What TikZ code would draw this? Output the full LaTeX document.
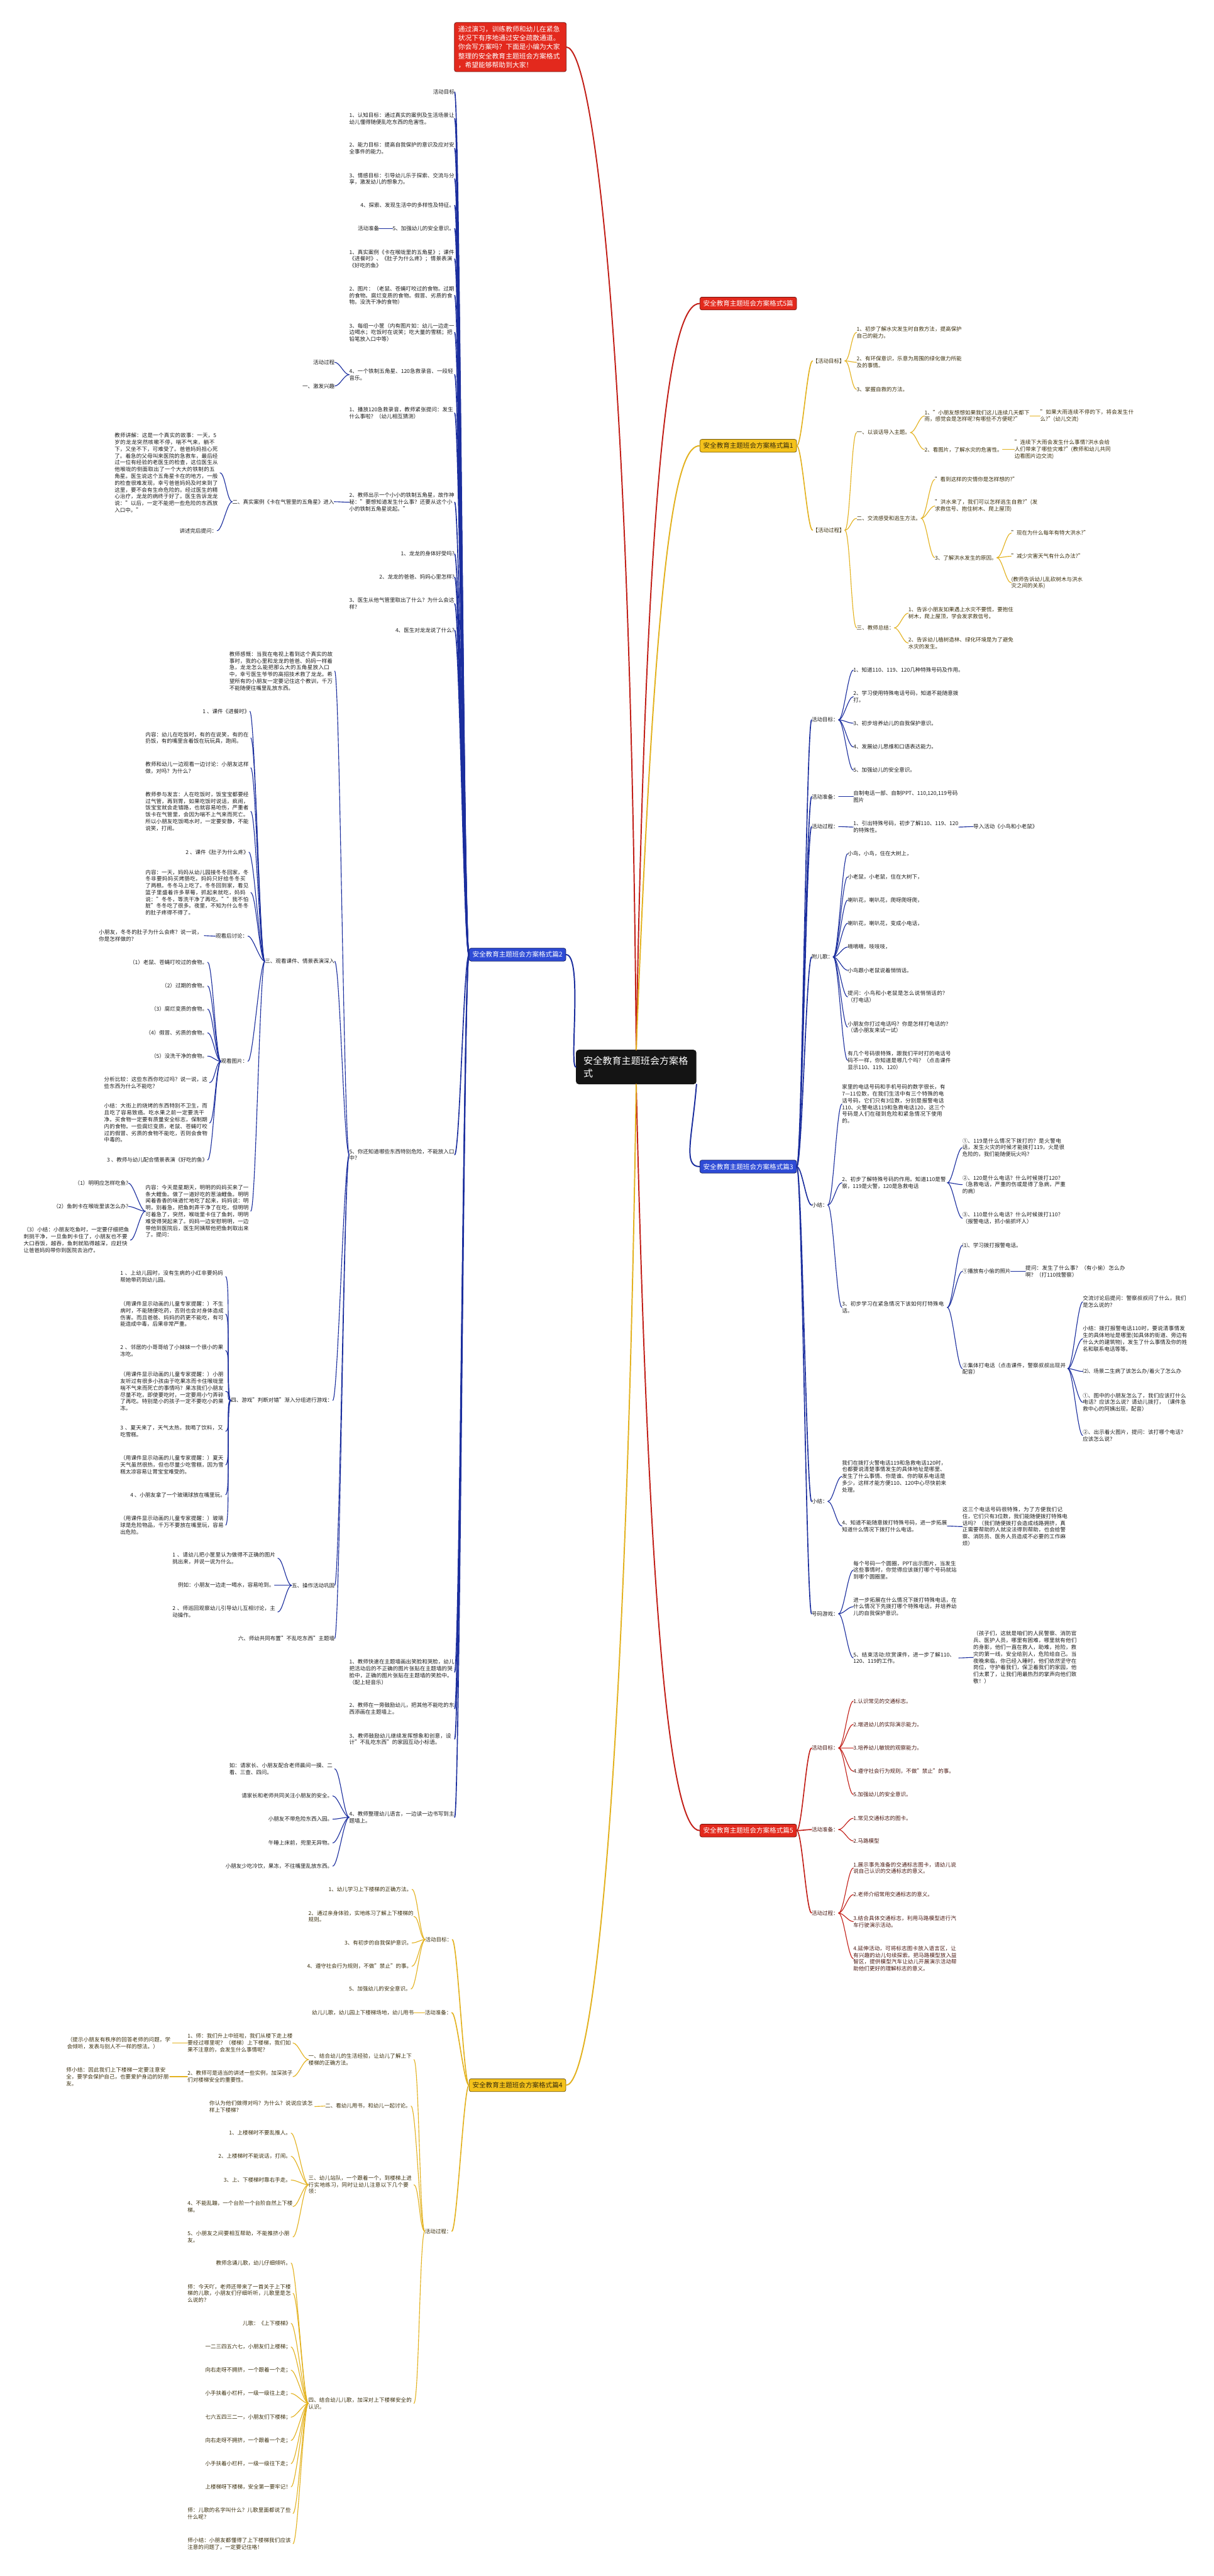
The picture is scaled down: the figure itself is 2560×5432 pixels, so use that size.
\documentclass[tikz,border=0pt]{standalone}
\usepackage{fontspec}
\setmainfont{Noto Sans CJK SC}
\XeTeXlinebreaklocale "zh"
\XeTeXlinebreakskip=0pt plus 1pt
\definecolor{bluefill}{HTML}{2E4BD6}
\definecolor{blueline}{HTML}{1B2E9E}
\definecolor{yelfill}{HTML}{F4C21B}
\definecolor{yelline}{HTML}{E3B21F}
\definecolor{redfill}{HTML}{E3291D}
\definecolor{redline}{HTML}{C21F18}
\definecolor{txt}{HTML}{1C1C1C}
\definecolor{ytxt}{HTML}{3A2E0C}
\definecolor{rtxt}{HTML}{4A1812}
\newcommand\fsleaf{\fontsize{11.3pt}{14.3pt}\selectfont}
\newcommand\fsbranch{\fontsize{14pt}{17pt}\selectfont}
\newcommand\fanL[3]{\foreach \kid in {#3}{\draw[#1] (#2.west) .. controls +(-11,0) and +(11,0) .. (\kid.east);}}
\newcommand\fanR[3]{\foreach \kid in {#3}{\draw[#1] (#2.east) .. controls +(11,0) and +(-11,0) .. (\kid.west);}}
\tikzset{
 leaf/.style={inner sep=0pt, font=\fsleaf, text=txt},
 ls/.style={leaf, anchor=east},
 lm/.style={leaf, anchor=east, text width=222pt, align=left},
 rs/.style={leaf, anchor=west},
 rm/.style={leaf, anchor=west, text width=222pt, align=left},
 brn/.style={font=\fsbranch, rounded corners=4pt, inner xsep=7pt, inner ysep=7pt, draw, line width=1pt},
 bl/.style={draw=blueline, line width=1.5pt},
 blb/.style={draw=blueline, line width=2.2pt},
 yl/.style={draw=yelline, line width=1.5pt},
 ylb/.style={draw=yelline, line width=2.2pt},
 rl/.style={draw=redline, line width=1.5pt},
 rlb/.style={draw=redline, line width=2.2pt},
}
\begin{document}
\begin{tikzpicture}[x=1pt,y=-1pt,line cap=round]
\useasboundingbox (0,0) rectangle (2560,5432);
\fill[white] (0,0) rectangle (2560,5432);

% ---------- central and main nodes ----------
\node[fill=black!92, text=white, rounded corners=6pt, font=\fontsize{20pt}{26pt}\selectfont, inner xsep=16pt, inner ysep=14pt, text width=222pt, align=left] (ctr) at (1342,2250) {安全教育主题班会方案格式};
\node[brn, fill=redfill, draw=redline!60!black, text=white, font=\fontsize{14.3pt}{19pt}\selectfont, anchor=north west, text width=220pt, align=left, inner xsep=8pt, inner ysep=7pt] (intro) at (958,47) {通过演习，训练教师和幼儿在紧急\\状况下有序地通过安全疏散通道。\\你会写方案吗？下面是小编为大家\\整理的安全教育主题班会方案格式\\，希望能够帮助到大家！};
\node[brn, fill=redfill, draw=redline!60!black, text=white, anchor=west] (nB5t) at (1476,640) {安全教育主题班会方案格式5篇};
\node[brn, fill=yelfill, draw=yelline!50!black, text=ytxt, anchor=west] (nB1) at (1476,940) {安全教育主题班会方案格式篇1};
\node[brn, fill=bluefill, draw=blueline!60!black, text=white, anchor=east] (nB2) at (1194,2013) {安全教育主题班会方案格式篇2};
\node[brn, fill=bluefill, draw=blueline!60!black, text=white, anchor=west] (nB3) at (1476,2460) {安全教育主题班会方案格式篇3};
\node[brn, fill=yelfill, draw=yelline!50!black, text=ytxt, anchor=east] (nB4) at (1194,4397) {安全教育主题班会方案格式篇4};
\node[brn, fill=redfill, draw=redline!60!black, text=white, anchor=west] (nB5) at (1476,3860) {安全教育主题班会方案格式篇5};

\draw[redline, line width=2.6pt] (ctr.north) .. controls (1330,700) and (1250,102) .. (intro.east);
\draw[redline, line width=2.6pt] (ctr.north) .. controls (1365,900) and (1420,640) .. (nB5t.west);
\draw[yelline, line width=2.6pt] (ctr.north) .. controls (1385,1100) and (1430,940) .. (nB1.west);
\draw[blueline, line width=2.6pt] (ctr.south east) .. controls (1460,2400) and (1440,2460) .. (nB3.west);
\draw[redline, line width=2.6pt] (ctr.south) .. controls (1370,3500) and (1420,3860) .. (nB5.west);
\draw[blueline, line width=2.6pt] (ctr.west) .. controls (1200,2250) and (1230,2013) .. (nB2.east);
\draw[yelline, line width=2.6pt] (ctr.south) .. controls (1320,3800) and (1250,4397) .. (nB4.east);

% ---------- 篇2 (blue, left) ----------
\node[ls] (a1) at (959,194) {活动目标};
\node[lm] (a2) at (959,250) {1、认知目标：通过真实的案例及生活场景让幼儿懂得随便乱吃东西的危害性。};
\node[lm] (a3) at (959,313) {2、能力目标：提高自我保护的意识及应对安全事件的能力。};
\node[lm] (a4) at (959,377) {3、情感目标：引导幼儿乐于探索、交流与分享，激发幼儿的想象力。};
\node[ls] (a5) at (959,433) {4、探索、发现生活中的多样性及特征。};
\node[ls] (a6) at (959,482) {5、加强幼儿的安全意识。};
\node[ls] (a6a) at (800,482) {活动准备};
\node[lm] (a7) at (959,546) {1、真实案例《卡在喉咙里的五角星》；课件《进餐时》、《肚子为什么疼》；情景表演《好吃的鱼》};
\node[lm] (a8) at (959,623) {2、图片：（老鼠、苍蝇叮咬过的食物。过期的食物。腐烂变质的食物。假冒、劣质的食物。没洗干净的食物）};
\node[lm] (a9) at (959,701) {3、每组一小筐（内有图片如：幼儿一边走一边喝水；吃饭时在说笑；吃大量的雪糕；把铅笔放入口中等）};
\node[lm] (a10) at (959,790) {4、一个铁制五角星、120急救录音、一段轻音乐。};
\node[ls] (a10a) at (706,764) {活动过程};
\node[ls] (a10b) at (706,814) {一、激发兴趣};
\node[lm] (a11) at (959,871) {1、播放120急救录音，教师紧张提问：发生什么事啦？（幼儿相互猜测）};
\node[lm] (a12) at (959,1059) {2、教师出示一个小小的铁制五角星，故作神秘："要想知道发生什么事？还要从这个小小的铁制五角星说起。"};
\node[ls] (a12a) at (705,1058) {二、真实案例《卡在气管里的五角星》进入};
\node[lm] (a12a1) at (464,997) {教师讲解：这是一个真实的故事：一天，5岁的龙龙突然咳嗽不停，喘不气来，躺不下，又坐不下，可难受了。爸爸妈妈担心死了。着急的父母叫来医院的急救车，最后经过一位有经验的老医生的检查，这位医生从他喉咙的侧面取出了一个大大的铁制的五角星。医生说这个五角星卡在的地方，一般的检查很难发现，幸亏爸爸妈妈及时来到了这里，要不会有生命危险的。经过医生的精心治疗，龙龙的病终于好了。医生告诉龙龙说："以后，一定不能把一些危险的东西放入口中。"};
\node[ls] (a12a2) at (458,1119) {讲述完后提问：};
\node[ls] (a13) at (959,1168) {1、龙龙的身体好受吗?};
\node[ls] (a14) at (959,1217) {2、龙龙的爸爸、妈妈心里怎样?};
\node[lm] (a15) at (959,1273) {3、医生从他气管里取出了什么？为什么会这样?};
\node[ls] (a16) at (959,1329) {4、医生对龙龙说了什么?};
\node[lm] (a17) at (959,2435) {5、你还知道哪些东西特别危险，不能放入口中?};
\node[lm] (b1) at (706,1415) {教师感慨：当我在电视上看到这个真实的故事时，我的心里和龙龙的爸爸、妈妈一样着急，龙龙怎么能把那么大的五角星放入口中，幸亏医生爷爷的高招技术救了龙龙。希望所有的小朋友一定要记住这个教训，千万不能随便往嘴里乱放东西。};
\node[ls] (b2x) at (706,2027) {三、观看课件、情景表演深入};
\node[ls] (c1) at (527,1500) {1 、课件《进餐时》};
\node[lm] (c2) at (529,1556) {内容：幼儿在吃饭时，有的在说笑，有的在扔饭，有的嘴里含着饭在玩玩具，跑闹。};
\node[lm] (c3) at (529,1619) {教师和幼儿一边观看一边讨论：小朋友这样做，对吗？为什么？};
\node[lm] (c4) at (529,1711) {教师参与发言：人在吃饭时，饭宝宝都要经过气管，再到胃，如果吃饭时说话，疯闹，饭宝宝就会走错路，也就容易呛伤，严重者饭卡在气管里，会因为喘不上气来而死亡。所以小朋友吃饭喝水时，一定要安静，不能说笑，打闹。};
\node[ls] (c5) at (525,1797) {2 、课件《肚子为什么疼》};
\node[lm] (c6) at (529,1882) {内容：一天，妈妈从幼儿园接冬冬回家，冬冬非要妈妈买烤肠吃，妈妈只好给冬冬买了两根。冬冬马上吃了。冬冬回到家，看见篮子里盛着许多草莓，抓起来就吃，妈妈说："冬冬，等洗干净了再吃。""我不怕脏"冬冬吃了很多。夜里，不知为什么冬冬的肚子疼得不得了。};
\node[ls] (c7) at (523,1974) {观看后讨论：};
\node[lm] (c7a) at (431,1973) {小朋友，冬冬的肚子为什么会疼？说一说，你是怎样做的？};
\node[ls] (c8) at (523,2238) {观看图片：};
\node[ls] (d1) at (438,2029) {（1）老鼠、苍蝇叮咬过的食物。};
\node[ls] (d2) at (438,2079) {（2）过期的食物。};
\node[ls] (d3) at (438,2128) {（3）腐烂变质的食物。};
\node[ls] (d4) at (438,2178) {（4）假冒、劣质的食物。};
\node[ls] (d5) at (438,2227) {（5）没洗干净的食物。};
\node[lm] (d6) at (442,2283) {分析比较：这些东西你吃过吗？说一说，这些东西为什么不能吃？};
\node[lm] (d7) at (442,2368) {小结：大街上的烧烤的东西特别不卫生，而且吃了容易致癌。吃水果之前一定要洗干净。买食物一定要有质量安全标志，保制期内的食物。一些腐烂变质，老鼠、苍蝇叮咬过的假冒、劣质的食物不能吃，否则会食物中毒的。};
\node[ls] (d8) at (438,2446) {3 、教师与幼儿配合情景表演《好吃的鱼》};
\node[lm] (c9) at (529,2554) {内容：今天是星期天，明明的妈妈买来了一条大鲤鱼。做了一道好吃的葱油鲤鱼。明明闻着香香的味道忙地吃了起来，妈妈说：明明，别着急，把鱼刺弄干净了在吃，但明明可着急了，突然，喉咙里卡住了鱼刺，明明难受得哭起来了。妈妈一边安慰明明，一边带他到医院后，医生阿姨帮他把鱼刺取出来了。提问：};
\node[ls] (e1) at (271,2495) {（1）明明应怎样吃鱼?};
\node[ls] (e2) at (271,2544) {（2）鱼刺卡在喉咙里该怎么办?};
\node[lm, text width=225pt] (e3) at (275,2615) {（3）小结：小朋友吃鱼时，一定要仔细把鱼刺挑干净，一旦鱼刺卡住了，小朋友也不要大口吞饭，越吞，鱼刺就陷得越深，应赶快让爸爸妈妈带你到医院去治疗。};
\node[ls] (b3) at (702,2953) {四、游戏"判断对错"渐入分组进行游戏：};
\node[lm] (f1) at (476,2692) {1 、上幼儿园时，没有生病的小红非要妈妈帮她带药到幼儿园。};
\node[lm] (f2) at (476,2771) {（用课件显示动画的儿童专家提醒：）不生病时，不能随便吃药，否则也会对身体造成伤害。而且爸爸、妈妈的药更不能吃，有可能造成中毒，后果非常严重。};
\node[lm] (f3) at (476,2848) {2 、邻居的小哥哥给了小妹妹一个很小的果冻吃。};
\node[lm] (f4) at (476,2934) {（用课件显示动画的儿童专家提醒：）小朋友听过有很多小孩由于吃果冻而卡住喉咙里喘不气来而死亡的事情吗？果冻我们小朋友尽量不吃，即使要吃时，一定要用小勺弄碎了再吃。特别是小的孩子一定不要吃小的果冻。};
\node[lm] (f5) at (476,3018) {3 、夏天来了，天气太热，我喝了饮料，又吃雪糕。};
\node[lm] (f6) at (476,3089) {（用课件显示动画的儿童专家提醒：）夏天天气虽然很热，但也尽量少吃雪糕，因为雪糕太凉容易让胃宝宝难受的。};
\node[ls] (f7) at (476,3152) {4 、小朋友拿了一个玻璃球放在嘴里玩。};
\node[lm] (f8) at (476,3216) {（用课件显示动画的儿童专家提醒：）玻璃球是危险物品，千万不要放在嘴里玩，容易出危险。};
\node[ls] (b4) at (706,3343) {五、操作活动巩固};
\node[lm] (g1) at (586,3286) {1 、请幼儿把小筐里认为做得不正确的图片挑出来，并说一说为什么。};
\node[ls] (g2) at (579,3343) {例如：小朋友一边走一喝水，容易呛到。};
\node[lm] (g3) at (586,3399) {2 、师巡回观察幼儿引导幼儿互相讨论，主动操作。};
\node[ls] (b5) at (706,3455) {六、师幼共同布置"不乱吃东西"主题墙};
\node[lm] (a18) at (959,3526) {1、教师快速在主题墙画出笑脸和哭脸，幼儿把活动后的不正确的图片张贴在主题墙的哭脸中，正确的图片张贴在主题墙的笑脸中。（配上轻音乐）};
\node[lm] (a19) at (959,3603) {2、教师在一旁鼓励幼儿，把其他不能吃的东西添画在主题墙上。};
\node[lm] (a20) at (959,3667) {3、教师鼓励幼儿继续发挥想象和创意，设计"不乱吃东西"的家园互动小标语。};
\node[lm] (a21) at (959,3832) {4、教师整理幼儿语言，一边读一边书写到主题墙上。};
\node[lm] (h1) at (706,3730) {如：请家长、小朋友配合老师晨间一摸、二看、三查、四问。};
\node[ls] (h2) at (702,3787) {请家长和老师共同关注小朋友的安全。};
\node[ls] (h3) at (702,3836) {小朋友不带危险东西入园。};
\node[ls] (h4) at (702,3886) {午睡上床前，兜里无异物。};
\node[ls] (h5) at (702,3935) {小朋友少吃冷饮，果冻，不往嘴里乱放东西。};

\fanL{blb}{nB2}{a1,a2,a3,a4,a5,a6,a7,a8,a9,a10,a11,a12,a13,a14,a15,a16,a17,a18,a19,a20,a21}
\fanL{bl}{a6}{a6a}
\fanL{bl}{a10}{a10a,a10b}
\fanL{bl}{a12}{a12a}
\fanL{bl}{a12a}{a12a1,a12a2}
\fanL{bl}{a17}{b1,b2x,b3,b4,b5}
\fanL{bl}{b2x}{c1,c2,c3,c4,c5,c6,c7,c8,c9}
\fanL{bl}{c7}{c7a}
\fanL{bl}{c8}{d1,d2,d3,d4,d5,d6,d7,d8}
\fanL{bl}{c9}{e1,e2,e3}
\fanL{bl}{b3}{f1,f2,f3,f4,f5,f6,f7,f8}
\fanL{bl}{b4}{g1,g2,g3}
\fanL{bl}{a21}{h1,h2,h3,h4,h5}

% ---------- 篇4 (yellow, left) ----------
\begin{scope}[leaf/.append style={text=ytxt}]
\node[ls] (p1) at (954,4090) {活动目标：};
\node[ls] (p1a) at (869,3984) {1、幼儿学习上下楼梯的正确方法。};
\node[lm] (p1b) at (873,4041) {2、通过亲身体验，实地练习了解上下楼梯的规则。};
\node[ls] (p1c) at (869,4097) {3、有初步的自我保护意识。};
\node[ls] (p1d) at (869,4146) {4、遵守社会行为规则，不做"禁止"的事。};
\node[ls] (p1e) at (867,4194) {5、加强幼儿的安全意识。};
\node[ls] (p2) at (953,4244) {活动准备：};
\node[ls] (p2a) at (873,4244) {幼儿儿歌，幼儿园上下楼梯场地，幼儿用书};
\node[ls] (p3) at (953,4705) {活动过程：};
\node[lm] (q1) at (873,4343) {一、结合幼儿的生活经验，让幼儿了解上下楼梯的正确方法。};
\node[lm] (q1a) at (618,4308) {1、师：我们升上中班啦，我们从楼下走上楼要经过哪里呢？（楼梯）上下楼梯，我们如果不注意的，会发生什么事情呢？};
\node[lm] (q1a1) at (364,4308) {（提示小朋友有秩序的回答老师的问题，学会倾听，发表与别人不一样的想法。）};
\node[lm] (q1b) at (618,4379) {2、教师可是适当的讲述一些实例，加深孩子们对楼梯安全的重要性。};
\node[lm, text width=218pt] (q1b1) at (358,4379) {师小结：因此我们上下楼梯一定要注意安全，要学会保护自己，也要爱护身边的好朋友。};
\node[ls] (q2) at (867,4441) {二、看幼儿用书，和幼儿一起讨论。};
\node[lm] (q2a) at (664,4442) {你认为他们做得对吗？为什么？说说应该怎样上下楼梯？};
\node[lm] (q3) at (873,4607) {三、幼儿站队，一个跟着一个，到楼梯上进行实地练习，同时让幼儿注意以下几个要领：};
\node[ls] (q3a) at (614,4498) {1、上楼梯时不要乱推人。};
\node[ls] (q3b) at (614,4547) {2、上楼梯时不能说话，打闹。};
\node[ls] (q3c) at (614,4597) {3、上、下楼梯时靠右手走。};
\node[lm] (q3d) at (618,4653) {4、不能乱蹦，一个台阶一个台阶自然上下楼梯。};
\node[lm] (q3e) at (618,4717) {5、小朋友之间要相互帮助，不能推挤小朋友。};
\node[lm] (q4) at (873,5068) {四、结合幼儿儿歌，加深对上下楼梯安全的认识。};
\node[ls] (r1) at (614,4772) {教师念诵儿歌，幼儿仔细倾听。};
\node[lm] (r2) at (618,4836) {师：今天吖，老师还带来了一首关于上下楼梯的儿歌，小朋友们仔细听听，儿歌里是怎么说的？};
\node[ls] (r3) at (614,4899) {儿歌：《上下楼梯》};
\node[ls] (r4) at (614,4949) {一二三四五六七，小朋友们上楼梯；};
\node[ls] (r5) at (614,4998) {向右走呀不拥挤，一个跟着一个走；};
\node[ls] (r6) at (614,5047) {小手扶着小栏杆，一级一级往上走；};
\node[ls] (r7) at (614,5097) {七六五四三二一，小朋友们下楼梯；};
\node[ls] (r8) at (614,5146) {向右走呀不拥挤，一个跟着一个走；};
\node[ls] (r9) at (614,5195) {小手扶着小栏杆，一级一级往下走；};
\node[ls] (r10) at (614,5244) {上楼梯呀下楼梯，安全第一要牢记！};
\node[lm] (r11) at (618,5300) {师：儿歌的名字叫什么？儿歌里面都说了些什么呢？};
\node[lm] (r12) at (618,5364) {师小结：小朋友都懂得了上下楼梯我们应该注意的问题了，一定要记住咯！};
\end{scope}
\fanL{ylb}{nB4}{p1,p2,p3}
\fanL{yl}{p1}{p1a,p1b,p1c,p1d,p1e}
\fanL{yl}{p2}{p2a}
\fanL{yl}{p3}{q1,q2,q3,q4}
\fanL{yl}{q1}{q1a,q1b}
\fanL{yl}{q1a}{q1a1}
\fanL{yl}{q1b}{q1b1}
\fanL{yl}{q2}{q2a}
\fanL{yl}{q3}{q3a,q3b,q3c,q3d,q3e}
\fanL{yl}{q4}{r1,r2,r3,r4,r5,r6,r7,r8,r9,r10,r11,r12}

% ---------- 篇1 (yellow, right) ----------
\begin{scope}[leaf/.append style={text=ytxt}]
\node[rs] (s1) at (1714,761) {【活动目标】};
\node[rm] (s1a) at (1807,701) {1、初步了解水灾发生时自救方法，提高保护自己的能力。};
\node[rm] (s1b) at (1807,764) {2、有环保意识，乐意为周围的绿化做力所能及的事情。};
\node[rs] (s1c) at (1807,821) {3、掌握自救的方法。};
\node[rs] (s2) at (1714,1118) {【活动过程】};
\node[rs] (t1) at (1807,912) {一、以谈话导入主题。};
\node[rm] (t1a) at (1950,877) {1、"小朋友想想如果我们这儿连续几天都下雨，感觉会是怎样呢?有哪些不方便呢?"};
\node[rm, text width=205pt] (t1a1) at (2194,877) {"如果大雨连续不停的下，将会发生什么?"(幼儿交流)};
\node[rs] (t1b) at (1950,948) {2、看图片，了解水灾的危害性。};
\node[rm, text width=205pt] (t1b1) at (2140,948) {"连续下大雨会发生什么事情?洪水会给人们带来了哪些灾难?"(教师和幼儿共同边看图片边交流)};
\node[rs] (t2) at (1807,1093) {二、交流感受和逃生方法。};
\node[rs] (t2a) at (1972,1011) {"看到这样的灾情你是怎样想的?"};
\node[rm] (t2b) at (1972,1067) {"洪水来了，我们可以怎样逃生自救?"(发求救信号、抱住树木、爬上屋顶)};
\node[rs] (t2c) at (1972,1176) {3、了解洪水发生的原因。};
\node[rs] (t2c1) at (2133,1124) {"现在为什么每年有特大洪水?"};
\node[rs] (t2c2) at (2133,1173) {"减少灾害天气有什么办法?"};
\node[rm] (t2c3) at (2133,1229) {(教师告诉幼儿乱砍树木与洪水\\灾之间的关系)};
\node[rs] (t3) at (1807,1324) {三、教师总结：};
\node[rm] (t3a) at (1916,1293) {1、告诉小朋友如果遇上水灾不要慌，要抱住树木，爬上屋顶，学会发求救信号。};
\node[rm] (t3b) at (1916,1356) {2、告诉幼儿植树造林、绿化环境是为了避免水灾的发生。};
\end{scope}
\fanR{ylb}{nB1}{s1,s2}
\fanR{yl}{s1}{s1a,s1b,s1c}
\fanR{yl}{s2}{t1,t2,t3}
\fanR{yl}{t1}{t1a,t1b}
\fanR{yl}{t1a}{t1a1}
\fanR{yl}{t1b}{t1b1}
\fanR{yl}{t2}{t2a,t2b,t2c}
\fanR{yl}{t2c}{t2c1,t2c2,t2c3}
\fanR{yl}{t3}{t3a,t3b}

% ---------- 篇3 (blue, right) ----------
\node[rs] (u1) at (1712,1518) {活动目标：};
\node[rs] (u1a) at (1800,1413) {1、知道110、119、120几种特殊号码及作用。};
\node[rm] (u1b) at (1800,1469) {2、学习使用特殊电话号码，知道不能随意拨打。};
\node[rs] (u1c) at (1800,1525) {3、初步培养幼儿的自我保护意识。};
\node[rs] (u1d) at (1800,1575) {4、发展幼儿思维和口语表达能力。};
\node[rs] (u1e) at (1800,1624) {5、加强幼儿的安全意识。};
\node[rs] (u2) at (1712,1680) {活动准备：};
\node[rm] (u2a) at (1800,1680) {自制电话一部、自制PPT、110,120,119号码图片};
\node[rs] (u3) at (1712,1743) {活动过程：};
\node[rm] (u3a) at (1800,1744) {1、引出特殊号码，初步了解110、119、120的特殊性。};
\node[rs] (u3a1) at (2053,1743) {导入活动《小鸟和小老鼠》};
\node[rs] (u4) at (1712,2018) {附儿歌：};
\node[rs] (v1) at (1788,1800) {小鸟，小鸟，住在大树上，};
\node[rs] (v2) at (1788,1849) {小老鼠，小老鼠，住在大树下，};
\node[rs] (v3) at (1788,1898) {喇叭花，喇叭花，爬呀爬呀爬，};
\node[rs] (v4) at (1788,1947) {喇叭花，喇叭花，变成小电话，};
\node[rs] (v5) at (1788,1997) {嘀嘀嘀，吱吱吱，};
\node[rs] (v6) at (1788,2046) {小鸟跟小老鼠说着悄悄话。};
\node[rm] (v7) at (1788,2102) {提问：小鸟和小老鼠是怎么说悄悄话的？（打电话）};
\node[rm] (v8) at (1788,2166) {小朋友你打过电话吗？你是怎样打电话的？（请小朋友来试一试）};
\node[rm] (v9) at (1788,2236) {有几个号码很特殊，跟我们平时打的电话号码不一样，你知道是哪几个吗？（点击课件显示110、119、120）};
\node[rs] (u5) at (1712,2541) {小结：};
\node[rm] (w1) at (1776,2328) {家里的电话号码和手机号码的数字很长，有7—11位数，在我们生活中有三个特殊的电话号码，它们只有3位数，分别是报警电话110、火警电话119和急救电话120，这三个号码是人们在碰到危险和紧急情况下使用的。};
\node[rm] (w2) at (1776,2494) {2、初步了解特殊号码的作用。知道110是警察，119是火警，120是急救电话};
\node[rm] (w2a) at (2030,2420) {①、119是什么情况下拨打的？是火警电话，发生火灾的时候才能拨打119，火是很危险的，我们能随便玩火吗？};
\node[rm] (w2b) at (2030,2498) {②、120是什么电话？什么时候拨打120？（急救电话，严重的伤或是得了急病，严重的病）};
\node[rm] (w2c) at (2030,2569) {③、110是什么电话？什么时候拨打110？（报警电话，抓小偷抓坏人）};
\node[rm] (w3) at (1776,2757) {3、初步学习在紧急情况下该如何打特殊电话。};
\node[rs] (w3a) at (2030,2626) {⑴、学习拨打报警电话。};
\node[rs] (w3b) at (2030,2681) {①播放有小偷的照片};
\node[rm] (w3b1) at (2163,2681) {提问：发生了什么事？（有小偷）怎么办啊？（打110找警察）};
\node[rm] (w3c) at (2030,2886) {②集体打电话（点击课件，警察叔叔出现并配音）};
\node[rm] (x1) at (2284,2745) {交流讨论后提问：警察叔叔问了什么，我们是怎么说的？};
\node[rm] (x2) at (2284,2823) {小结：拨打报警电话110时，要说清事情发生的具体地址是哪里(如具体的街道、旁边有什么大的建筑物)，发生了什么事情及你的姓名和联系电话等等。};
\node[rs] (x3) at (2284,2892) {⑵、场景二生病了该怎么办/着火了怎么办};
\node[rm] (x4) at (2284,2957) {①、图中的小朋友怎么了，我们应该打什么电话？应该怎么说？请幼儿拨打，（课件急救中心的阿姨出现，配音）};
\node[rm] (x5) at (2284,3027) {②、出示着火图片，提问：该打哪个电话？应该怎么说？};
\node[rs] (u6) at (1712,3166) {小结：};
\node[rm] (y1) at (1776,3113) {我们在拨打火警电话119和急救电话120时，也都要说清楚事情发生的具体地址是哪里、发生了什么事情、你是谁、你的联系电话是多少，这样才能方便110、120中心尽快前来处理。};
\node[rm] (y2) at (1776,3218) {4、知道不能随意拨打特殊号码，进一步拓展知道什么情况下拨打什么电话。};
\node[rm] (y2a) at (2030,3219) {这三个电话号码很特殊，为了方便我们记住，它们只有3位数，我们能随便拨打特殊电话吗？（我们随便拨打会造成线路拥挤，真正需要帮助的人就没法得到帮助，也会给警察、消防员、医务人员造成不必要的工作麻烦）};
\node[rs] (u7) at (1712,3403) {号码游戏：};
\node[rm] (z1) at (1800,3311) {每个号码一个圆圈，PPT出示图片，当发生这些事情时，你觉得应该拨打哪个号码就站到哪个圆圈里。};
\node[rm] (z2) at (1800,3388) {进一步拓展在什么情况下拨打特殊电话，在什么情况下先拨打哪个特殊电话，并培养幼儿的自我保护意识。};
\node[rm] (z3) at (1800,3496) {5、结束活动:欣赏课件，进一步了解110、120、119的工作。};
\node[rm] (z3a) at (2053,3495) {（孩子们，这就是咱们的人民警察、消防官兵、医护人员，哪里有困难，哪里就有他们的身影，他们一直在救人，助难，抢险，救灾的第一线，安全给别人，危险给自己。当夜晚来临，你已经入睡时，他们依然坚守在岗位，守护着我们，保卫着我们的家园，他们太累了，让我们用最热烈的掌声向他们致敬！）};
\fanR{blb}{nB3}{u1,u2,u3,u4,u5,u6,u7}
\fanR{bl}{u1}{u1a,u1b,u1c,u1d,u1e}
\fanR{bl}{u2}{u2a}
\fanR{bl}{u3}{u3a}
\fanR{bl}{u3a}{u3a1}
\fanR{bl}{u4}{v1,v2,v3,v4,v5,v6,v7,v8,v9}
\fanR{bl}{u5}{w1,w2,w3}
\fanR{bl}{w2}{w2a,w2b,w2c}
\fanR{bl}{w3}{w3a,w3b,w3c}
\fanR{bl}{w3b}{w3b1}
\fanR{bl}{w3c}{x1,x2,x3,x4,x5}
\fanR{bl}{u6}{y1,y2}
\fanR{bl}{y2}{y2a}
\fanR{bl}{u7}{z1,z2,z3}
\fanR{bl}{z3}{z3a}

% ---------- 篇5 (red, right) ----------
\begin{scope}[leaf/.append style={text=rtxt}]
\node[rs] (k1) at (1712,3686) {活动目标：};
\node[rs] (k1a) at (1800,3587) {1.认识常见的交通标志。};
\node[rs] (k1b) at (1800,3636) {2.增进幼儿的实际演示能力。};
\node[rs] (k1c) at (1800,3686) {3.培养幼儿敏锐的观察能力。};
\node[rs] (k1d) at (1800,3735) {4.遵守社会行为规则，不做"禁止"的事。};
\node[rs] (k1e) at (1800,3784) {5.加强幼儿的安全意识。};
\node[rs] (k2) at (1712,3858) {活动准备：};
\node[rs] (k2a) at (1800,3834) {1.常见交通标志的图卡。};
\node[rs] (k2b) at (1800,3882) {2.马路模型};
\node[rs] (k3) at (1712,4034) {活动过程：};
\node[rm] (k3a) at (1800,3939) {1.展示事先准备的交通标志图卡，请幼儿说说自己认识的交通标志的意义。};
\node[rs] (k3b) at (1800,3995) {2.老师介绍常用交通标志的意义。};
\node[rm] (k3c) at (1800,4052) {3.结合具体交通标志，利用马路模型进行汽车行驶演示活动。};
\node[rm] (k3d) at (1800,4130) {4.延伸活动，可将标志图卡放入语言区，让有兴趣的幼儿句续探索。把马路模型放入益智区，提供模型汽车让幼儿开展演示活动帮助他们更好的理解标志的意义。};
\end{scope}
\fanR{rlb}{nB5}{k1,k2,k3}
\fanR{rl}{k1}{k1a,k1b,k1c,k1d,k1e}
\fanR{rl}{k2}{k2a,k2b}
\fanR{rl}{k3}{k3a,k3b,k3c,k3d}
\end{tikzpicture}
\end{document}
